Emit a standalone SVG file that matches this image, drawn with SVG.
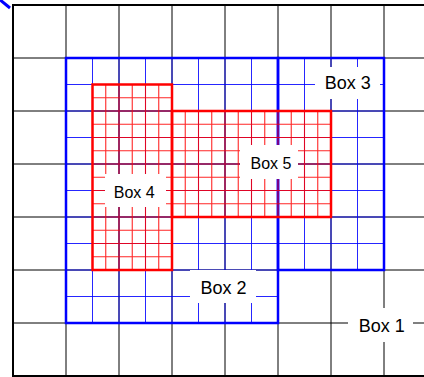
<svg xmlns="http://www.w3.org/2000/svg" width="424" height="377" viewBox="0 0 424 377">
<style>
.g1{stroke:#000;stroke-width:1;fill:none}
.f1{stroke:#000;stroke-width:2;fill:none}
.gb{stroke:#0000ff;stroke-width:1;fill:none;stroke-opacity:0.85}
.fb{stroke:#0000ff;stroke-width:2.5;fill:none}
.gr{stroke:#ff0000;stroke-width:1.1;fill:none;stroke-opacity:0.85}
.fr{stroke:#ff0000;stroke-width:2.5;fill:none}
.lbg{fill:#fff;stroke:none}
.lt{font-family:"Liberation Sans",Arial,sans-serif;fill:#000}
</style>
<rect x="0" y="0" width="424" height="377" fill="#fff"/>
<g id="box1">
<path class="g1" d="M66 5V376M119 5V376M172 5V376M225 5V376M278 5V376M331 5V376M384 5V376M13 58H437M13 111H437M13 164H437M13 217H437M13 270H437M13 323H437"/>
<rect class="f1" x="13" y="5" width="424" height="371"/>
</g>
<g id="box2">
<path class="gb" d="M92.5 58V323M119 58V323M145.5 58V323M172 58V323M198.5 58V323M225 58V323M251.5 58V323M66 84.5H278M66 111H278M66 137.5H278M66 164H278M66 190.5H278M66 217H278M66 243.5H278M66 270H278M66 296.5H278"/>
<rect class="fb" x="66" y="58" width="212" height="265"/>
</g>
<g id="box3">
<path class="gb" d="M304.5 58V270M331 58V270M357.5 58V270M278 84.5H384M278 111H384M278 137.5H384M278 164H384M278 190.5H384M278 217H384M278 243.5H384"/>
<rect class="fb" x="278" y="58" width="106" height="212"/>
</g>
<g id="box4">
<path class="gr" d="M105.75 84.5V270M119 84.5V270M132.25 84.5V270M145.5 84.5V270M158.75 84.5V270M92.5 97.75H172M92.5 111H172M92.5 124.25H172M92.5 137.5H172M92.5 150.75H172M92.5 164H172M92.5 177.25H172M92.5 190.5H172M92.5 203.75H172M92.5 217H172M92.5 230.25H172M92.5 243.5H172M92.5 256.75H172"/>
<rect class="fr" x="92.5" y="84.5" width="79.5" height="185.5"/>
</g>
<g id="box5">
<path class="gr" d="M185.25 111V217M198.5 111V217M211.75 111V217M225 111V217M238.25 111V217M251.5 111V217M264.75 111V217M278 111V217M291.25 111V217M304.5 111V217M317.75 111V217M172 124.25H331M172 137.5H331M172 150.75H331M172 164H331M172 177.25H331M172 190.5H331M172 203.75H331"/>
<rect class="fr" x="172" y="111" width="159" height="106"/>
</g>
<g id="labels">
<rect class="lbg" x="348" y="308" width="65" height="34"/>
<text class="lt" x="358.7" y="332.3" font-size="18">Box 1</text>
<rect class="lbg" x="190" y="270" width="66" height="33"/>
<text class="lt" x="200.4" y="294.3" font-size="18">Box 2</text>
<rect class="lbg" x="315" y="67" width="65" height="32"/>
<text class="lt" x="324.7" y="89.3" font-size="18">Box 3</text>
<rect class="lbg" x="105" y="174" width="61" height="33"/>
<text class="lt" x="113.8" y="197.7" font-size="16">Box 4</text>
<rect class="lbg" x="240" y="145" width="58" height="34"/>
<text class="lt" x="250.5" y="169" font-size="16">Box 5</text>
</g>
<g id="connectors">
<line x1="-1" y1="-1" x2="10" y2="8" stroke="#0000ff" stroke-width="3"/>
</g>
</svg>
